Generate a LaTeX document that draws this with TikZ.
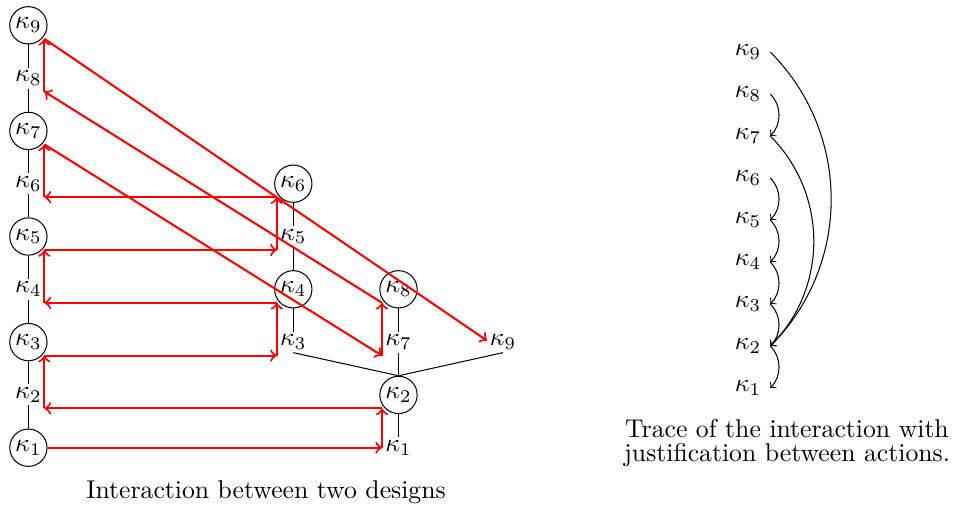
\documentclass[tikz,border=0pt]{standalone}
\usetikzlibrary{calc}
\begin{document}
\begin{tikzpicture}[x=0.3891pt,y=-0.3891pt,
  act/.style={circle,draw,inner sep=1pt},
  lbl/.style={inner sep=1pt},
  trlbl/.style={},
  redarr/.style={->,red,thick},
  just/.style={->,bend left=45}]
\useasboundingbox (0,0) rectangle (958,506);
% left design
\node[act] (L9) at (28.4,25.3) {$\kappa_9$};
\node[lbl] (L8) at (28.4,78.1) {$\kappa_8$};
\node[act] (L7) at (28.4,130.9) {$\kappa_7$};
\node[lbl] (L6) at (28.4,183.7) {$\kappa_6$};
\node[act] (L5) at (28.4,236.5) {$\kappa_5$};
\node[lbl] (L4) at (28.4,289.3) {$\kappa_4$};
\node[act] (L3) at (28.4,342.1) {$\kappa_3$};
\node[lbl] (L2) at (28.4,394.9) {$\kappa_2$};
\node[act] (L1) at (28.4,447.7) {$\kappa_1$};
\draw (L9) -- (L8) -- (L7) -- (L6) -- (L5) -- (L4) -- (L3) -- (L2) -- (L1);
% middle design
\node[act] (M6) at (293.3,183.7) {$\kappa_6$};
\node[lbl] (M5) at (293.3,236.5) {$\kappa_5$};
\node[act] (M4) at (293.3,289.3) {$\kappa_4$};
\node[lbl] (M3) at (293.3,342.1) {$\kappa_3$};
\draw (M6) -- (M5) -- (M4) -- (M3);
% right design
\node[act] (R8) at (398.5,289.3) {$\kappa_8$};
\node[lbl] (R7) at (398.5,342.1) {$\kappa_7$};
\node[lbl] (R9) at (503,342.1) {$\kappa_9$};
\node[act] (R2) at (398.5,394.9) {$\kappa_2$};
\node[lbl] (R1) at (398.5,447.7) {$\kappa_1$};
\draw (R8) -- (R7) -- (R2) -- (R1);
\draw (M3.south) -- (R2.north) -- (R9.south);
% interaction
\draw[redarr] (L1.east) -- ([shift={(-16.5,0)}]R1.center);
\draw[redarr] ([shift={(-16.5,0)}]R1.center) -- ([shift={(-16.5,13.5)}]R2.center);
\draw[redarr] ([shift={(-16.5,13.5)}]R2.center) -- ([shift={(16,13.5)}]L2.center);
\draw[redarr] ([shift={(16,13.5)}]L2.center) -- ([shift={(16,13.5)}]L3.center);
\draw[redarr] ([shift={(16,13.5)}]L3.center) -- ([shift={(-16.5,13.5)}]M3.center);
\draw[redarr] ([shift={(-16.5,13.5)}]M3.center) -- ([shift={(-16.5,13.5)}]M4.center);
\draw[redarr] ([shift={(-16.5,13.5)}]M4.center) -- ([shift={(16,13.5)}]L4.center);
\draw[redarr] ([shift={(16,13.5)}]L4.center) -- ([shift={(16,13.5)}]L5.center);
\draw[redarr] ([shift={(16,13.5)}]L5.center) -- ([shift={(-16.5,13.5)}]M5.center);
\draw[redarr] ([shift={(-16.5,13.5)}]M5.center) -- ([shift={(-16.5,13.5)}]M6.center);
\draw[redarr] ([shift={(-16.5,13.5)}]M6.center) -- ([shift={(16,13.5)}]L6.center);
\draw[redarr] ([shift={(16,13.5)}]L6.center) -- ([shift={(16,13.5)}]L7.center);
\draw[redarr] ([shift={(16,13.5)}]L7.center) -- ([shift={(-16.5,13.5)}]R7.center);
\draw[redarr] ([shift={(-16.5,13.5)}]R7.center) -- ([shift={(-16.5,13.5)}]R8.center);
\draw[redarr] ([shift={(-16.5,13.5)}]R8.center) -- ([shift={(16,13.5)}]L8.center);
\draw[redarr] ([shift={(16,13.5)}]L8.center) -- ([shift={(16,13.5)}]L9.center);
\draw[redarr] ([shift={(16,13.5)}]L9.center) -- ([shift={(-16,-1.5)}]R9.center);
\node[anchor=base] (cap1) at (266,498) {Interaction between two designs};
% trace
\node[trlbl] (T9) at (748,52) {$\kappa_9$};
\node[trlbl] (T8) at (748,94) {$\kappa_8$};
\node[trlbl] (T7) at (748,136) {$\kappa_7$};
\node[trlbl] (T6) at (748,178) {$\kappa_6$};
\node[trlbl] (T5) at (748,220) {$\kappa_5$};
\node[trlbl] (T4) at (748,262) {$\kappa_4$};
\node[trlbl] (T3) at (748,304) {$\kappa_3$};
\node[trlbl] (T2) at (748,346) {$\kappa_2$};
\node[trlbl] (T1) at (748,388) {$\kappa_1$};
\draw[just] (T8.east) to (T7.east);
\draw[just] (T6.east) to (T5.east);
\draw[just] (T5.east) to (T4.east);
\draw[just] (T4.east) to (T3.east);
\draw[just] (T3.east) to (T2.east);
\draw[just] (T2.east) to (T1.east);
\draw[just] (T7.east) to (T2.east);
\draw[just] (T9.east) to (T2.east);
\node[align=center] (cap2) at (787,443) {Trace of the interaction with\\[-2.7pt] justification between actions.};
\end{tikzpicture}
\end{document}
